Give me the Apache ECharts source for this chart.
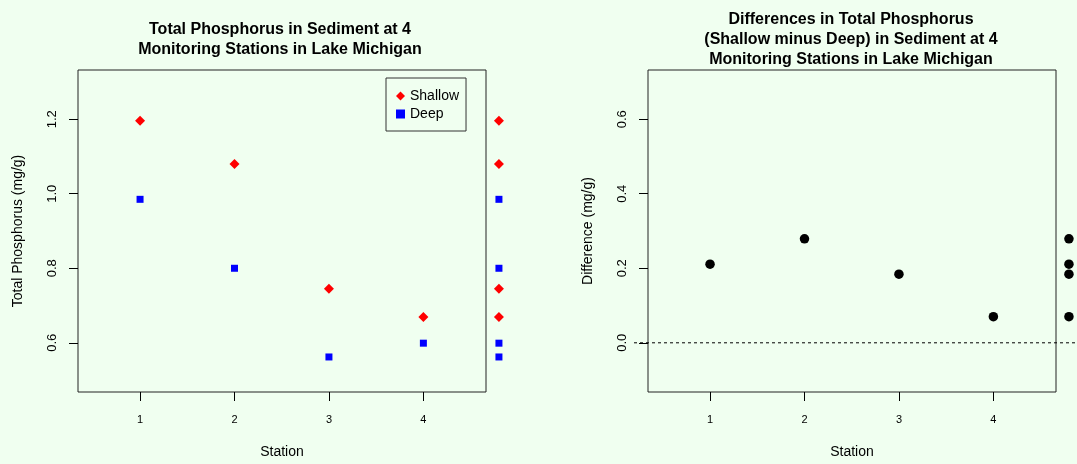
<!DOCTYPE html>
<html>
<head>
<meta charset="utf-8">
<title>Total Phosphorus in Sediment</title>
<script src="https://cdn.jsdelivr.net/npm/echarts@6/dist/echarts.min.js"></script>
<style>
  html, body { margin: 0; padding: 0; background: #F0FFF0; }
  #chart { width: 1077px; height: 464px; }
</style>
</head>
<body>
<div id="chart"></div>
<script>
// data
const stations = [1, 2, 3, 4];
const shallow = [1.196, 1.08, 0.745, 0.669];
const deep = [0.985, 0.80, 0.562, 0.599];
const diffs = [0.211, 0.279, 0.184, 0.070];
const leftTicks = [0.6, 0.8, 1.0, 1.2];
const rightTicks = [0.0, 0.2, 0.4, 0.6];
const stationTicks = [1, 2, 3, 4];
// the strip of all values drawn just right of each box
const stripX = 4.8;
const zeroLine = [[0, 0], [1, 0]];

const font = "'Liberation Sans', Arial, Helvetica, sans-serif";

function pairs(values) {
  return values.map((v, i) => [stations[i], v]);
}
function strip(values) {
  return values.map(v => [stripX, v]);
}

function xAxis(gridIndex) {
  return {
    type: 'value',
    gridIndex: gridIndex,
    min: 0.343,
    max: 4.663,
    name: 'Station',
    nameLocation: 'middle',
    nameGap: 53,
    nameTextStyle: {fontSize: 14, color: '#000', fontFamily: font},
    axisLine: {show: false, onZero: false},
    axisTick: {show: true, length: 9, customValues: stationTicks, lineStyle: {color: '#000'}},
    axisLabel: {customValues: stationTicks, fontSize: 11, color: '#000', margin: 22, fontFamily: font},
    splitLine: {show: false}
  };
}

function yAxis(gridIndex, min, max, ticks, name) {
  return {
    type: 'value',
    gridIndex: gridIndex,
    min: min,
    max: max,
    name: name,
    nameLocation: 'middle',
    nameGap: 53,
    nameTextStyle: {fontSize: 14, color: '#000', fontFamily: font},
    axisLine: {show: false, onZero: false},
    axisTick: {show: true, length: 9, customValues: ticks, lineStyle: {color: '#000'}},
    axisLabel: {
      customValues: ticks,
      rotate: 90,
      fontSize: 13,
      color: '#000',
      margin: 19,
      fontFamily: font,
      formatter: v => v.toFixed(1)
    },
    splitLine: {show: false}
  };
}

const chart = echarts.init(document.getElementById('chart'));

const option = {
  backgroundColor: '#F0FFF0',
  animation: false,
  title: [
    {
      text: 'Total Phosphorus in Sediment at 4\nMonitoring Stations in Lake Michigan',
      left: 275,
      top: 15,
      textAlign: 'center',
      textStyle: {fontSize: 16, fontWeight: 'bold', lineHeight: 20, color: '#000', fontFamily: font}
    },
    {
      text: 'Differences in Total Phosphorus\n(Shallow minus Deep) in Sediment at 4\nMonitoring Stations in Lake Michigan',
      left: 846,
      top: 5,
      textAlign: 'center',
      textStyle: {fontSize: 16, fontWeight: 'bold', lineHeight: 20, color: '#000', fontFamily: font}
    }
  ],
  legend: {
    data: [
      {name: 'Shallow', icon: 'diamond'},
      {name: 'Deep', icon: 'rect'}
    ],
    orient: 'vertical',
    left: 386,
    top: 78,
    padding: [11, 7, 10, 10],
    itemWidth: 9,
    itemHeight: 9,
    itemGap: 4,
    borderColor: '#333',
    borderWidth: 1,
    textStyle: {fontSize: 14, color: '#000', fontFamily: font}
  },
  grid: [
    {left: 78, top: 70, width: 408, height: 322, show: true, borderColor: '#222', borderWidth: 1, backgroundColor: 'transparent'},
    {left: 648, top: 70, width: 408, height: 322, show: true, borderColor: '#222', borderWidth: 1, backgroundColor: 'transparent'},
    // wider frame for the zero line, which runs past the box in the original
    {left: 634, top: 70, right: 0, height: 322, show: false}
  ],
  xAxis: [
    xAxis(0),
    xAxis(1),
    {type: 'value', gridIndex: 2, min: 0, max: 1, show: false}
  ],
  yAxis: [
    yAxis(0, 0.468, 1.332, leftTicks, 'Total Phosphorus (mg/g)'),
    yAxis(1, -0.132, 0.732, rightTicks, 'Difference (mg/g)'),
    {type: 'value', gridIndex: 2, min: -0.132, max: 0.732, show: false}
  ],
  series: [
    {
      name: 'Shallow',
      type: 'scatter',
      xAxisIndex: 0,
      yAxisIndex: 0,
      symbol: 'diamond',
      symbolSize: 10,
      clip: false,
      itemStyle: {color: '#FF0000', opacity: 1},
      data: pairs(shallow).concat(strip(shallow))
    },
    {
      name: 'Deep',
      type: 'scatter',
      xAxisIndex: 0,
      yAxisIndex: 0,
      symbol: 'rect',
      symbolSize: 7,
      clip: false,
      itemStyle: {color: '#0000FF', opacity: 1},
      data: pairs(deep).concat(strip(deep))
    },
    {
      // zero reference line
      name: 'zero',
      type: 'line',
      xAxisIndex: 2,
      yAxisIndex: 2,
      symbol: 'none',
      silent: true,
      lineStyle: {color: '#000', width: 1, type: [3, 3]},
      data: zeroLine
    },
    {
      name: 'Difference',
      type: 'scatter',
      xAxisIndex: 1,
      yAxisIndex: 1,
      symbol: 'circle',
      symbolSize: 9.5,
      clip: false,
      itemStyle: {color: '#000', opacity: 1},
      data: pairs(diffs).concat(strip(diffs))
    }
  ]
};

chart.setOption(option);
</script>
</body>
</html>
